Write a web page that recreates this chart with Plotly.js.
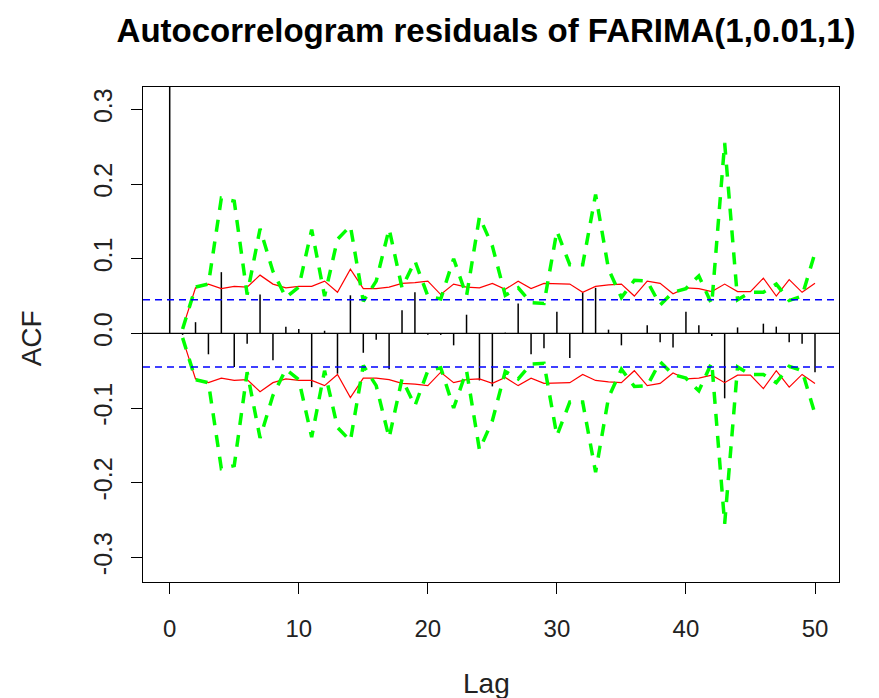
<!DOCTYPE html>
<html>
<head>
<meta charset="utf-8">
<script src="https://cdn.plot.ly/plotly-3.0.1.min.js"></script>
<style>
  html, body { margin: 0; padding: 0; background: #ffffff; }
  #chart { width: 879px; height: 698px; }
</style>
</head>
<body>
<div id="chart"></div>
<script>
// ---- data ----
const lags = [0,1,2,3,4,5,6,7,8,9,10,11,12,13,14,15,16,17,18,19,20,21,22,23,24,25,
              26,27,28,29,30,31,32,33,34,35,36,37,38,39,40,41,42,43,44,45,46,47,48,49,50];

const acfValues = [1.0, -0.002, 0.015, -0.028, 0.082, -0.045, -0.014, 0.052, -0.036, 0.009,
                   0.006, -0.072, 0.0035, -0.054, 0.051, -0.026, -0.0085, -0.048, 0.031, 0.055,
                   -0.002, -0.002, -0.016, 0.025, -0.063, -0.071, 0.001, 0.040, -0.028, -0.020,
                   0.029, -0.033, 0.055, 0.061, 0.005, -0.016, 0.0, 0.011, -0.012, -0.019,
                   0.029, 0.011, -0.0036, -0.087, 0.008, 0.0, 0.013, 0.009, -0.012, -0.014,
                   -0.052];

const boundLags = [1,2,3,4,5,6,7,8,9,10,11,12,13,14,15,16,17,18,19,20,21,22,23,24,25,
                   26,27,28,29,30,31,32,33,34,35,36,37,38,39,40,41,42,43,44,45,46,47,48,49,50];

const redUpper = [0.007, 0.061, 0.066, 0.060, 0.063, 0.062, 0.078, 0.066, 0.061, 0.063,
                  0.063, 0.070, 0.055, 0.086, 0.060, 0.060, 0.062, 0.067, 0.068, 0.070,
                  0.052, 0.066, 0.062, 0.061, 0.067, 0.059, 0.070, 0.060, 0.067, 0.067,
                  0.066, 0.055, 0.063, 0.065, 0.066, 0.050, 0.070, 0.067, 0.053, 0.061,
                  0.060, 0.056, 0.066, 0.056, 0.056, 0.074, 0.050, 0.072, 0.055, 0.067];

const redLower = [-0.007, -0.061, -0.066, -0.060, -0.063, -0.062, -0.078, -0.066, -0.061, -0.063,
                  -0.063, -0.070, -0.055, -0.086, -0.060, -0.060, -0.062, -0.067, -0.068, -0.070,
                  -0.052, -0.066, -0.062, -0.061, -0.067, -0.059, -0.070, -0.060, -0.067, -0.067,
                  -0.066, -0.055, -0.063, -0.065, -0.066, -0.050, -0.070, -0.067, -0.053, -0.061,
                  -0.060, -0.056, -0.066, -0.056, -0.056, -0.074, -0.050, -0.072, -0.055, -0.067];

const greenUpper = [0.006, 0.062, 0.066, 0.181, 0.177, 0.052, 0.140, 0.083, 0.048, 0.062,
                    0.139, 0.050, 0.126, 0.144, 0.043, 0.070, 0.140, 0.061, 0.097, 0.050,
                    0.046, 0.100, 0.050, 0.156, 0.117, 0.051, 0.061, 0.041, 0.040, 0.137,
                    0.092, 0.092, 0.186, 0.086, 0.048, 0.071, 0.070, 0.038, 0.055, 0.060,
                    0.077, 0.039, 0.255, 0.045, 0.055, 0.055, 0.066, 0.044, 0.050, 0.108];

const greenLower = [-0.006, -0.062, -0.066, -0.181, -0.177, -0.052, -0.140, -0.083, -0.048, -0.062,
                    -0.139, -0.050, -0.126, -0.144, -0.043, -0.070, -0.140, -0.061, -0.097, -0.050,
                    -0.046, -0.100, -0.050, -0.156, -0.117, -0.051, -0.061, -0.041, -0.040, -0.137,
                    -0.092, -0.092, -0.186, -0.086, -0.048, -0.071, -0.070, -0.038, -0.055, -0.060,
                    -0.077, -0.039, -0.255, -0.045, -0.055, -0.055, -0.066, -0.044, -0.050, -0.108];

const ciBound = 0.045;

const xTickVals = [0, 10, 20, 30, 40, 50];
const xTickText = ["0", "10", "20", "30", "40", "50"];
const yTickVals = [-0.3, -0.2, -0.1, 0.0, 0.1, 0.2, 0.3];
const yTickText = ["-0.3", "-0.2", "-0.1", "0.0", "0.1", "0.2", "0.3"];

// ---- build vertical ACF segments ----
const segX = [], segY = [];
lags.forEach((l, i) => { segX.push(l, l, null); segY.push(0, acfValues[i], null); });

const FONT = "Liberation Sans, Arial, Helvetica, sans-serif";
const greenDash = "12px,10px";

const traces = [
  { x: segX, y: segY, type: "scatter", mode: "lines",
    line: { color: "#000000", width: 1.5 }, hoverinfo: "skip", showlegend: false },
  { x: boundLags, y: redUpper, type: "scatter", mode: "lines",
    line: { color: "#ff0000", width: 1.2 }, showlegend: false },
  { x: boundLags, y: redLower, type: "scatter", mode: "lines",
    line: { color: "#ff0000", width: 1.2 }, showlegend: false },
  { x: boundLags, y: greenUpper, type: "scatter", mode: "lines",
    line: { color: "#00ff00", width: 3.5, dash: greenDash }, showlegend: false },
  { x: boundLags, y: greenLower, type: "scatter", mode: "lines",
    line: { color: "#00ff00", width: 3.5, dash: greenDash }, showlegend: false }
];

const layout = {
  width: 879, height: 698,
  margin: { l: 143, r: 40, t: 87, b: 116 },
  paper_bgcolor: "#ffffff", plot_bgcolor: "#ffffff",
  font: { family: FONT, color: "#222222" },
  title: { text: "<b>Autocorrelogram residuals of FARIMA(1,0.01,1)</b>",
           font: { family: FONT, size: 33, color: "#000000" },
           xref: "paper", x: 0.493, xanchor: "center",
           yref: "container", y: 0.956, yanchor: "middle" },
  xaxis: {
    range: [-2.07, 51.86], showgrid: false, zeroline: false,
    showline: true, mirror: true, linecolor: "#000000", linewidth: 1,
    ticks: "outside", ticklen: 11, tickwidth: 1, tickcolor: "#000000",
    tickmode: "array", tickvals: xTickVals, ticktext: xTickText,
    tickfont: { family: FONT, size: 24, color: "#222222" },
    ticklabelstandoff: 14
  },
  yaxis: {
    range: [-0.333, 0.330], showgrid: false, zeroline: false,
    showline: true, mirror: true, linecolor: "#000000", linewidth: 1,
    ticks: "outside", ticklen: 11, tickwidth: 1, tickcolor: "#000000",
    tickmode: "array", tickvals: yTickVals, ticktext: yTickText,
    tickangle: -90,
    tickfont: { family: FONT, size: 25, color: "#222222" },
    ticklabelstandoff: 9
  },
  annotations: [
    { text: "Lag", xref: "paper", yref: "paper", x: 0.493, y: -0.206,
      xanchor: "center", yanchor: "middle", showarrow: false,
      font: { family: FONT, size: 28, color: "#222222" } },
    { text: "ACF", xref: "paper", yref: "paper", x: -0.159, y: 0.493,
      xanchor: "center", yanchor: "middle", showarrow: false, textangle: -90,
      font: { family: FONT, size: 28, color: "#222222" } }
  ],
  shapes: [
    { type: "line", xref: "paper", x0: 0, x1: 1, yref: "y", y0: 0, y1: 0,
      line: { color: "#000000", width: 1.4 } },
    { type: "line", xref: "paper", x0: 0, x1: 1, yref: "y", y0: ciBound, y1: ciBound,
      line: { color: "#0000ff", width: 1.4, dash: "7px,5px" } },
    { type: "line", xref: "paper", x0: 0, x1: 1, yref: "y", y0: -ciBound, y1: -ciBound,
      line: { color: "#0000ff", width: 1.4, dash: "7px,5px" } }
  ],
  showlegend: false
};

Plotly.newPlot("chart", traces, layout, { displayModeBar: false, staticPlot: true });
</script>
</body>
</html>
